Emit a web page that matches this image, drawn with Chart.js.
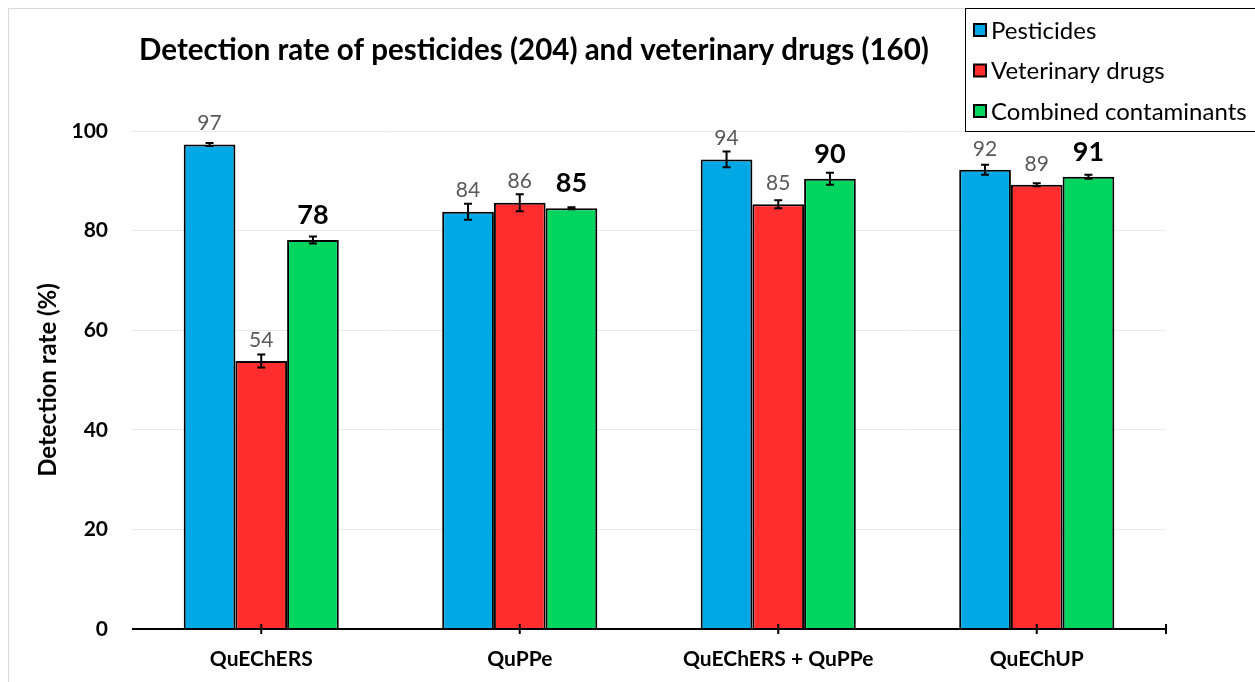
<!DOCTYPE html>
<html>
<head>
<meta charset="utf-8">
<script src="https://cdn.jsdelivr.net/npm/chart.js@4.4.1/dist/chart.umd.min.js"></script>
<style>
  html, body { margin: 0; padding: 0; background: #fff; }
  #wrap { width: 1255px; height: 682px; position: relative; }
</style>
</head>
<body>
<div id="wrap"><canvas id="detChart" width="1255" height="682"></canvas></div>
<script>
// data
const categories = ["QuEChERS", "QuPPe", "QuEChERS + QuPPe", "QuEChUP"];
const seriesNames = ["Pesticides", "Veterinary drugs", "Combined contaminants"];
const pesticides = [97.3, 83.8, 94.3, 92.2];
const vetDrugs = [53.8, 85.6, 85.3, 89.2];
const combined = [78.1, 84.5, 90.4, 90.8];
const errPesticides = [0.3, 1.6, 1.6, 1.0];
const errVetDrugs = [1.3, 1.7, 0.8, 0.3];
const errCombined = [0.7, 0.2, 1.2, 0.4];
const yTicks = [0, 20, 40, 60, 80, 100];

const colors = ["#00a9e6", "#ff2d2d", "#00d65f"];
const FONT = "Lato, 'Open Sans', sans-serif";
const errors = [errPesticides, errVetDrugs, errCombined];

const decor = {
  id: "decor",
  afterDatasetsDraw(chart) {
    const ctx = chart.ctx;
    const xs = chart.scales.x;
    const ys = chart.scales.y;
    ctx.save();

    // error bars
    ctx.strokeStyle = "#000";
    ctx.lineWidth = 2;
    chart.data.datasets.forEach((ds, di) => {
      const meta = chart.getDatasetMeta(di);
      meta.data.forEach((bar, i) => {
        const v = ds.data[i];
        const e = errors[di][i];
        const x = bar.x;
        const yTop = ys.getPixelForValue(v + e);
        const yBot = ys.getPixelForValue(v - e);
        ctx.beginPath();
        ctx.moveTo(x, yTop); ctx.lineTo(x, yBot);
        ctx.moveTo(x - 4, yTop); ctx.lineTo(x + 4, yTop);
        ctx.moveTo(x - 4, yBot); ctx.lineTo(x + 4, yBot);
        ctx.stroke();

        // value labels
        ctx.textAlign = "center";
        ctx.textBaseline = "middle";
        if (di === 2) {
          ctx.fillStyle = "#000";
          ctx.font = "bold 27px " + FONT;
          ctx.fillText(Math.round(v), x, bar.y - 25);
        } else {
          ctx.fillStyle = "#595959";
          ctx.font = "21px " + FONT;
          ctx.fillText(Math.round(v), x, bar.y - 21);
        }
      });
    });

    // x axis line with ticks at category centres
    const ay = ys.getPixelForValue(0);
    ctx.beginPath();
    ctx.moveTo(xs.left, ay); ctx.lineTo(xs.right, ay);
    categories.forEach((c, i) => {
      const x = xs.getPixelForValue(i);
      ctx.moveTo(x, ay - 5); ctx.lineTo(x, ay + 5);
    });
    ctx.moveTo(xs.right, ay - 5); ctx.lineTo(xs.right, ay + 5);
    ctx.stroke();

    // outer frame
    ctx.strokeStyle = "#d9d9d9";
    ctx.lineWidth = 1;
    ctx.beginPath();
    ctx.moveTo(8.5, 690); ctx.lineTo(8.5, 8.5); ctx.lineTo(966, 8.5);
    ctx.stroke();

    // title
    ctx.fillStyle = "#000";
    ctx.font = "bold 29.5px " + FONT;
    ctx.textAlign = "center";
    ctx.textBaseline = "middle";
    ctx.fillText("Detection rate of pesticides (204) and veterinary drugs (160)", 534, 50);

    // legend
    ctx.fillStyle = "#fff";
    ctx.fillRect(966, 9, 300, 122);
    ctx.strokeStyle = "#000";
    ctx.lineWidth = 1;
    ctx.strokeRect(965.5, 8.5, 300, 123);
    ctx.font = "24px " + FONT;
    ctx.textAlign = "left";
    seriesNames.forEach((name, i) => {
      const cy = 30 + i * 40.5;
      ctx.fillStyle = colors[i];
      ctx.fillRect(974, cy - 6, 12, 12);
      ctx.lineWidth = 2;
      ctx.strokeStyle = "#000";
      ctx.strokeRect(974, cy - 6, 12, 12);
      ctx.fillStyle = "#000";
      ctx.fillText(name, 991, cy + 1);
    });

    ctx.restore();
  }
};

const ctx = document.getElementById("detChart").getContext("2d");
new Chart(ctx, {
  type: "bar",
  data: {
    labels: categories,
    datasets: [
      { label: seriesNames[0], data: pesticides, backgroundColor: colors[0] },
      { label: seriesNames[1], data: vetDrugs, backgroundColor: colors[1] },
      { label: seriesNames[2], data: combined, backgroundColor: colors[2] },
    ].map((d) => Object.assign(d, {
      borderColor: "#000",
      borderWidth: 2,
      categoryPercentage: 0.6,
      barPercentage: 1.0,
    })),
  },
  options: {
    responsive: false,
    animation: false,
    layout: { padding: { top: 131, right: 89, bottom: 0, left: 0 } },
    plugins: { legend: { display: false }, tooltip: { enabled: false } },
    scales: {
      x: {
        grid: { display: false, drawTicks: false },
        border: { display: false },
        ticks: { color: "#000", font: { family: FONT, size: 21, weight: "bold" }, padding: 18 },
        afterFit(scale) { scale.height = 53; },
      },
      y: {
        min: 0,
        max: 100,
        afterBuildTicks(scale) { scale.ticks = yTicks.map((v) => ({ value: v })); },
        grid: { color: "#e8e8e8", lineWidth: 1, drawTicks: false },
        border: { display: false },
        ticks: { color: "#000", font: { family: FONT, size: 21, weight: "bold" }, padding: 24 },
        title: {
          display: true,
          text: "Detection rate (%)",
          color: "#000",
          font: { family: FONT, size: 24, weight: "bold" },
          padding: { top: 34, bottom: 0 },
        },
        afterFit(scale) { scale.width = 132; },
      },
    },
  },
  plugins: [decor],
});
</script>
</body>
</html>
